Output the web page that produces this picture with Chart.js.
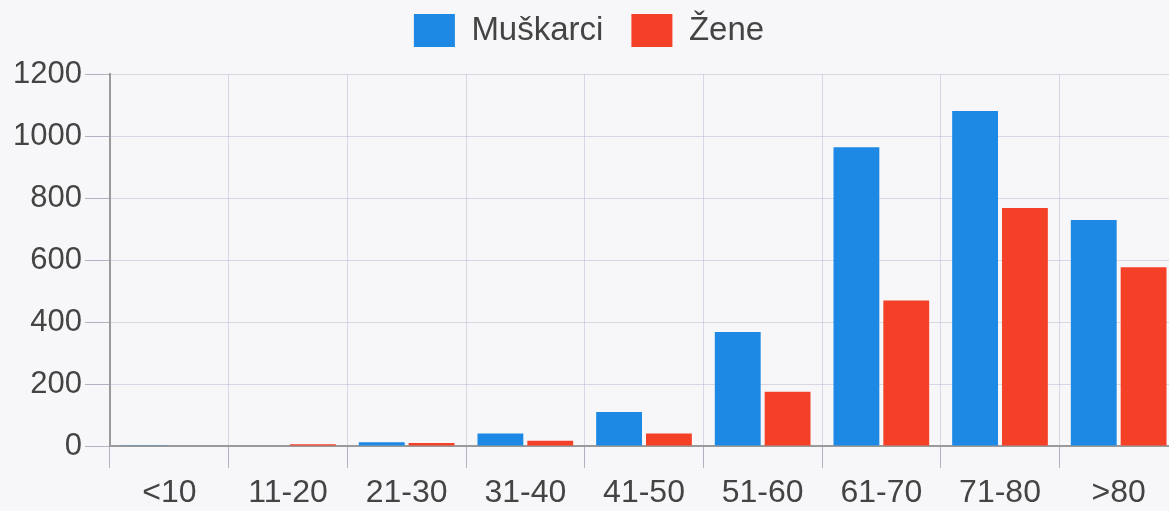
<!DOCTYPE html>
<html>
<head>
<meta charset="utf-8">
<script src="https://cdn.jsdelivr.net/npm/chart.js@4"></script>
<style>
  html, body { margin: 0; padding: 0; background: #f7f7f9; overflow: hidden; }
  .wrap { width: 1180px; height: 511px; }
</style>
</head>
<body>
<div class="wrap"><canvas id="myChart"></canvas></div>
<script>
var labels = ["<10", "11-20", "21-30", "31-40", "41-50", "51-60", "61-70", "71-80", ">80"];
var muskarci = [1, 2, 12, 40, 110, 368, 964, 1081, 729];
var zene = [0, 6, 10, 17, 40, 175, 469, 768, 577];
var yTicks = [0, 200, 400, 600, 800, 1000, 1200];

Chart.defaults.font.family = "'Liberation Sans', Arial, sans-serif";
Chart.defaults.color = '#444';

// push the plot area down below the legend
var legendSpace = {
    id: 'legendSpace',
    beforeInit: function(chart) {
        var fit = chart.legend.fit;
        chart.legend.fit = function() {
            fit.call(this);
            this.height += 17;
        };
    }
};

var ctx = document.getElementById('myChart').getContext('2d');
var chart = new Chart(ctx, {
    type: 'bar',
    data: {
        labels: labels,
        datasets: [{
            label: 'Muškarci',
            backgroundColor: 'rgb(30, 137, 228)',
            data: muskarci,
        }, {
            label: 'Žene',
            backgroundColor: 'rgb(245, 64, 40)',
            data: zene,
        }]
    },
    options: {
        responsive: true,
        maintainAspectRatio: false,
        animation: false,
        layout: { padding: { top: -14, right: 2, left: 0, bottom: 0 } },
        datasets: {
            bar: { categoryPercentage: 0.84, barPercentage: 0.92 }
        },
        plugins: {
            legend: {
                position: 'top',
                labels: {
                    boxWidth: 41,
                    boxHeight: 33,
                    padding: 28,
                    font: { size: 33 },
                    color: '#444'
                }
            },
            tooltip: { enabled: false }
        },
        scales: {
            x: {
                grid: { color: 'rgba(190, 190, 215, 0.55)', tickLength: 22, tickColor: 'rgba(160,160,180,0.8)' },
                border: { color: '#9a9a9a', width: 2 },
                ticks: { font: { size: 32 }, padding: 6, maxRotation: 0 },
                afterFit: function(scale) { scale.height = 65; }
            },
            y: {
                min: 0,
                max: 1200,
                afterBuildTicks: function(scale) {
                    scale.ticks = yTicks.map(function(v) { return { value: v }; });
                },
                grid: { color: 'rgba(190, 190, 215, 0.55)', tickLength: 25, tickColor: 'rgba(160,160,180,0.8)' },
                border: { color: '#9a9a9a', width: 2 },
                ticks: {
                    font: { size: 31 },
                    padding: 3,
                    callback: function(v) { return String(v); }
                },
                afterFit: function(scale) { scale.width = 110; }
            }
        }
    },
    plugins: [legendSpace]
});
</script>
</body>
</html>
